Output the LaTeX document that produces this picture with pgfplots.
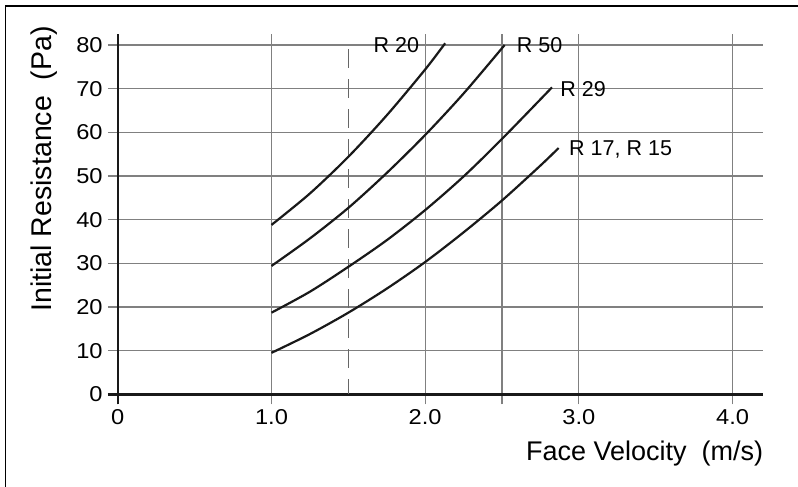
\documentclass[border=0pt]{standalone}
\usepackage{fontspec}
\setmainfont{Liberation Sans}
\newfontfamily\tickfont[FakeStretch=1.1]{Liberation Sans}
\usepackage{pgfplots}
\pgfplotsset{compat=1.18}

\begin{document}
\begin{tikzpicture}
\useasboundingbox (0,0) rectangle (798pt,-487pt);
% frame (only top and left edges are in the picture)
\draw[line width=1.8pt] (5.5pt,-487pt) -- (5.5pt,-6pt) -- (798pt,-6pt);
\begin{axis}[
  at={(117.8pt,-394.3pt)}, anchor=south west,
  scale only axis, width=645.5pt, height=360.2pt,
  xmin=0, xmax=4.2, ymin=0, ymax=82.5,
  axis lines=left,
  axis line style={-, line width=2.4pt, black!90, shorten <=-10pt},
  tick align=outside, major tick length=10pt,
  tick style={black!50, line width=1.2pt},
  grid=major, major grid style={black!50, line width=1.2pt},
  xtick={0,1,2,2.5,3,4}, xticklabels={0,1.0,2.0,,3.0,4.0},
  ytick={0,10,...,80},
  tick label style={font=\tickfont\fontsize{21.5}{24}\selectfont, inner sep=5pt},
  /pgf/number format/assume math mode=true,
  xlabel={Face Velocity\ \ (m/s)},
  ylabel={Initial Resistance\ \ (Pa)},
  xlabel style={font=\fontsize{27}{30}\selectfont, inner sep=0pt,
    at={(axis description cs:1,-0.1843)}, anchor=base east},
  ylabel style={font=\fontsize{28.5}{31}\selectfont, inner sep=0pt,
    at={(axis description cs:-0.1024,1.0222)}, anchor=base east},
  clip=false,
]
% design velocity
\addplot[black!60, line width=1.4pt, dash pattern=on 19pt off 11pt]
  coordinates {(1.5,79) (1.5,0)};

% R 20
\addplot[black!90, line width=2.2pt, smooth] coordinates {
  (1.0,38.8) (1.25,46.0) (1.5,54.4) (1.75,63.9) (2.0,74.4) (2.13,80.4)
};
% R 50
\addplot[black!90, line width=2.2pt, smooth] coordinates {
  (1.0,29.4) (1.25,35.7) (1.5,42.7) (1.75,50.7) (2.0,59.4) (2.25,68.9) (2.517,80)
};
% R 29
\addplot[black!90, line width=2.2pt, smooth] coordinates {
  (1.0,18.7) (1.25,23.5) (1.5,29.2) (1.75,35.3) (2.0,42.2) (2.25,49.9) (2.5,58.5) (2.825,70.3)
};
% R 17, R 15
\addplot[black!90, line width=2.2pt, smooth] coordinates {
  (1.0,9.5) (1.25,13.8) (1.5,18.7) (1.75,24.2) (2.0,30.3) (2.25,37.1) (2.5,44.4) (2.75,52.4) (2.868,56.4)
};

\node[anchor=base west, inner sep=0pt, font=\fontsize{21.5}{24}\selectfont] at (axis cs:1.663,78.24) {R 20};
\node[anchor=base west, inner sep=0pt, font=\fontsize{21.5}{24}\selectfont] at (axis cs:2.595,78.33) {R 50};
\node[anchor=base west, inner sep=0pt, font=\fontsize{21.5}{24}\selectfont] at (axis cs:2.878,68.16) {R 29};
\node[anchor=base west, inner sep=0pt, font=\fontsize{21.5}{24}\selectfont] at (axis cs:2.936,54.81) {R 17, R 15};
\end{axis}
\end{tikzpicture}
\end{document}
